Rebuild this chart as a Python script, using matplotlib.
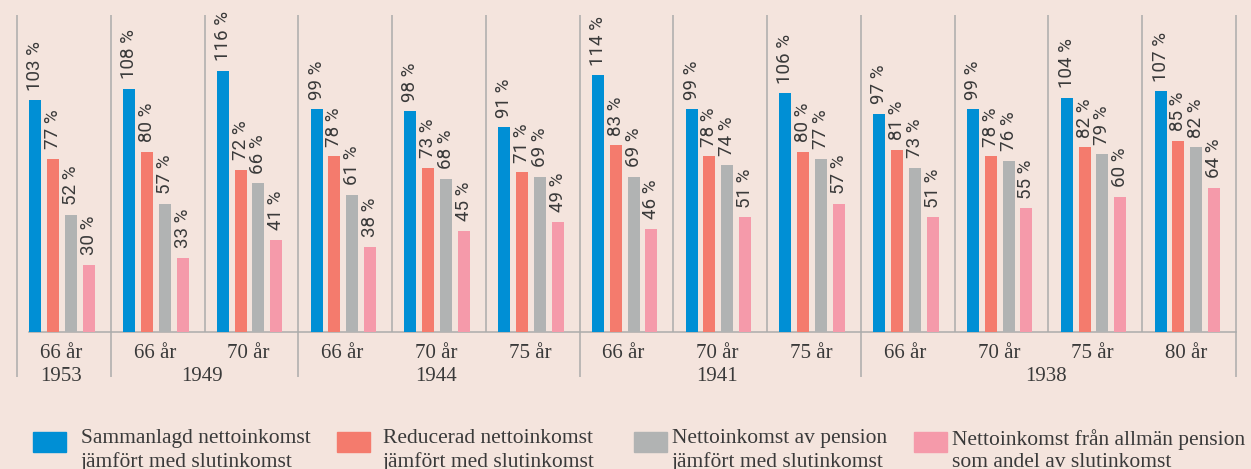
import matplotlib.pyplot as plt
import numpy as np
from matplotlib.patches import Rectangle

# Data
ages = ['66 år', '66 år', '70 år', '66 år', '70 år', '75 år', '66 år', '70 år', '75 år',
        '66 år', '70 år', '75 år', '80 år']
cohorts = ['1953', '1949', '1949', '1944', '1944', '1944', '1941', '1941', '1941',
           '1938', '1938', '1938', '1938']

sammanlagd = [103, 108, 116, 99, 98, 91, 114, 99, 106, 97, 99, 104, 107]
reducerad = [77, 80, 72, 78, 73, 71, 83, 78, 80, 81, 78, 82, 85]
pension = [52, 57, 66, 61, 68, 69, 69, 74, 77, 73, 76, 79, 82]
allman = [30, 33, 41, 38, 45, 49, 46, 51, 57, 51, 55, 60, 64]

series = [sammanlagd, reducerad, pension, allman]
legend_labels = ['Sammanlagd nettoinkomst\njämfört med slutinkomst',
                 'Reducerad nettoinkomst\njämfört med slutinkomst',
                 'Nettoinkomst av pension\njämfört med slutinkomst',
                 'Nettoinkomst från allmän pension\nsom andel av slutinkomst']
colors = ['#008fd5', '#f47b6d', '#b1b3b3', '#f59aaa']

bg = '#f4e4dd'
line_col = '#ababab'
txt_col = '#3a3a3a'

W, H = 1251, 469
fig = plt.figure(figsize=(W / 100, H / 100), dpi=100, facecolor=bg)

# axes: x in group units, y in percent (2.25 px per %)
base_px, top_px = 332, 15
px_per = 2.25
ax = fig.add_axes([17 / W, (H - base_px) / H, (1236 - 17) / W, (base_px - top_px) / H])
ax.set_xlim(0, len(ages))
ymax = (base_px - top_px) / px_per
ax.set_ylim(0, ymax)
ax.axis('off')

n = len(ages)
idx = np.arange(n)
bar_w = 0.128
for i, vals in enumerate(series):
    xs = idx + 0.195 + i * 0.19
    ax.bar(xs, vals, width=bar_w, color=colors[i], zorder=3)
    for x, v in zip(xs, vals):
        ax.annotate(f'{v} %', (x, v), xytext=(0, 7), textcoords='offset points',
                    rotation=90, ha='center', va='bottom', fontsize=13.5,
                    family=['Roboto', 'DejaVu Sans'], color=txt_col)

# baseline
ax.plot([0.195 - bar_w / 2, n], [0, 0], color=line_col, lw=1.1, zorder=2, clip_on=False)

# separators: tall between cohorts, short between ages
low = -(377 - base_px) / px_per
for b in range(n + 1):
    tall = b == 0 or b == n or cohorts[b] != cohorts[b - 1]
    ax.plot([b, b], [ymax, low if tall else 0], color=line_col, lw=1.1,
            clip_on=False, solid_capstyle='butt')

# age labels and cohort labels
serif = ['Liberation Serif', 'DejaVu Serif']
age_x = idx + 0.47
for x, a in zip(age_x, ages):
    ax.text(x, -(353 - base_px) / px_per, a, ha='center', va='center',
            fontsize=15, family=serif, color=txt_col)
for c in dict.fromkeys(cohorts):
    xs = [x for x, cc in zip(age_x, cohorts) if cc == c]
    ax.text(np.mean(xs), -(376 - base_px) / px_per, c, ha='center', va='center',
            fontsize=15, family=serif, color=txt_col)

# legend
box_x = [33, 337, 634, 914]
text_x = [81, 383, 672, 952]
for bx, tx, col, lab in zip(box_x, text_x, colors, legend_labels):
    fig.patches.append(Rectangle((bx / W, (H - 452) / H), 33 / W, 20 / H,
                                 transform=fig.transFigure, color=col))
    fig.text(tx / W, (H - 467) / H, lab, ha='left', va='baseline', fontsize=15.5,
             family=serif, color=txt_col, linespacing=1.25)

fig.savefig('out.png', dpi=100, facecolor=bg)
